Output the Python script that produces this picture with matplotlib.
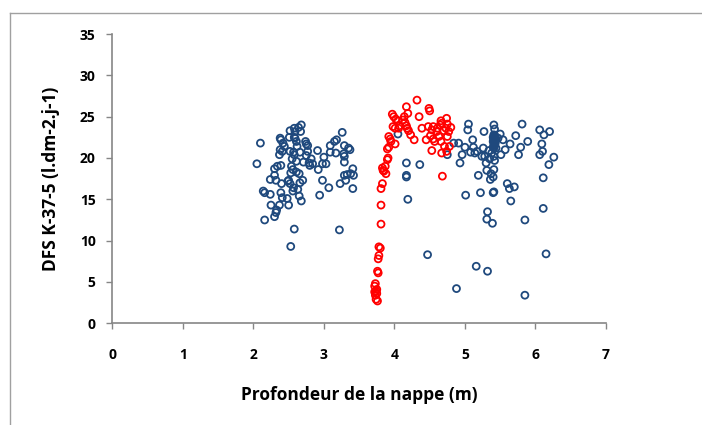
import matplotlib
matplotlib.use("Agg")
import matplotlib.pyplot as plt
from matplotlib.lines import Line2D

# ---- data ----
blue_x = [2.05, 2.10, 2.14, 2.16, 2.16, 2.24, 2.24, 2.25, 2.30, 2.30, 2.32, 2.30, 2.33, 2.32,
          2.34, 2.37, 2.38, 2.39, 2.39, 2.38, 2.37, 2.40, 2.39, 2.41, 2.42, 2.44, 2.41, 2.48,
          2.49, 2.50, 2.52, 2.51, 2.50, 2.52, 2.52, 2.53, 2.54, 2.55, 2.57, 2.58, 2.53, 2.56,
          2.57, 2.56, 2.58, 2.59, 2.58, 2.59, 2.61, 2.58, 2.61, 2.61, 2.62, 2.63, 2.65, 2.64,
          2.65, 2.66, 2.66, 2.67, 2.68, 2.68, 2.70, 2.71, 2.74, 2.75, 2.77, 2.75, 2.77, 2.79,
          2.80, 2.82, 2.84, 2.91, 2.92, 2.94, 2.98, 3.00, 2.98, 3.03, 3.07, 3.09, 3.09, 3.15,
          3.18, 3.17, 3.22, 3.23, 3.26, 3.28, 3.29, 3.29, 3.29, 3.29, 3.31, 3.33, 3.35, 3.37,
          3.38, 3.41, 3.42, 3.41,
          4.05, 4.17, 4.17, 4.17, 4.19, 4.36, 4.47, 4.75, 4.84, 4.88, 4.91, 4.93, 4.96, 5.00,
          5.01, 5.04, 5.05, 5.08, 5.11, 5.12, 5.14, 5.16, 5.17, 5.19, 5.22, 5.24, 5.26, 5.27,
          5.28, 5.30, 5.31, 5.31, 5.32, 5.32, 5.34, 5.35, 5.36, 5.37, 5.38, 5.39, 5.40, 5.41,
          5.40, 5.41, 5.42, 5.41, 5.42, 5.41, 5.44, 5.47, 5.50, 5.51, 5.54, 5.57, 5.60, 5.63,
          5.64, 5.65, 5.70, 5.72, 5.76, 5.79, 5.81, 5.85, 5.85, 5.89, 6.06, 6.06, 6.09, 6.10,
          6.11, 6.11, 6.12, 6.15, 6.19, 6.20, 6.26,
          5.40, 5.41, 5.42, 5.43, 5.40, 5.41, 5.42, 5.43, 5.41, 5.42, 5.40, 5.43, 5.41, 5.42,
          5.42, 5.41]
blue_y = [19.3, 21.8, 16.0, 15.8, 12.5, 17.4, 15.6, 14.3, 18.7, 17.9, 17.3, 12.9, 13.7, 13.4,
          19.0, 14.3, 22.4, 22.2, 19.1, 21.0, 20.4, 16.9, 15.8, 15.2, 21.8, 21.4, 20.8, 15.1,
          17.2, 17.3, 23.3, 22.5, 14.3, 16.9, 20.8, 18.2, 19.0, 19.9, 20.7, 20.4, 9.3, 16.0,
          16.4, 18.6, 23.6, 23.2, 22.5, 22.4, 22.0, 11.4, 18.3, 19.6, 21.4, 16.2, 15.4, 23.7,
          18.1, 20.7, 17.0, 23.2, 24.0, 14.8, 17.3, 19.5, 22.0, 21.7, 21.5, 20.3, 20.8, 19.4,
          19.1, 19.9, 19.3, 20.9, 18.6, 15.5, 17.3, 20.1, 19.3, 19.3, 16.4, 21.5, 20.7, 22.0,
          22.2, 20.6, 11.3, 16.9, 23.1, 20.5, 20.2, 21.5, 19.5, 17.9, 17.3, 18.0, 21.2, 21.0,
          18.1, 18.7, 17.9, 16.3,
          22.9, 19.4, 17.9, 17.7, 15.0, 19.2, 8.3, 20.4, 21.8, 4.2, 21.8, 19.4, 20.4, 21.3,
          15.5, 23.4, 24.1, 20.7, 22.2, 21.3, 20.6, 6.9, 20.8, 17.9, 15.8, 20.2, 21.2, 23.2,
          20.2, 19.4, 18.5, 12.6, 13.5, 6.3, 20.9, 19.9, 17.4, 18.1, 20.6, 12.1, 15.8, 18.6,
          17.7, 24.0, 23.5, 15.9, 19.7, 20.2, 21.2, 22.4, 22.9, 20.4, 22.2, 21.0, 16.9, 16.3,
          21.7, 14.8, 16.5, 22.7, 20.4, 21.3, 24.1, 12.5, 3.4, 22.0, 23.4, 20.4, 21.7, 20.8,
          17.6, 13.9, 22.8, 8.4, 19.2, 23.2, 20.1,
          21.3, 21.6, 21.9, 22.2, 22.5, 22.8, 21.5, 21.8, 22.1, 22.4, 22.0, 22.6, 21.2, 22.7,
          21.7, 22.3]

red_x = [3.72, 3.73, 3.72, 3.73, 3.75, 3.76, 3.75, 3.76, 3.77, 3.77, 3.78, 3.80, 3.78,
         3.81, 3.81, 3.81, 3.83, 3.83, 3.84, 3.85, 3.87, 3.88, 3.90, 3.91, 3.90, 3.92,
         3.92, 3.94, 3.95, 3.97, 3.99, 3.98, 4.01, 4.01, 4.02, 4.05, 4.06, 4.07, 4.12,
         4.14, 4.15, 4.17, 4.17, 4.19, 4.18, 4.20, 4.23, 4.28, 4.32, 4.35, 4.39, 4.45,
         4.49, 4.50, 4.48, 4.51, 4.53, 4.53, 4.55, 4.55, 4.57, 4.60, 4.61, 4.63, 4.65,
         4.66, 4.67, 4.66, 4.67, 4.68, 4.70, 4.71, 4.73, 4.74, 4.75, 4.75, 4.77, 4.78,
         4.80, 4.74, 3.74, 3.74]
red_y = [4.5, 4.8, 3.8, 3.4, 3.6, 2.7, 4.1, 6.3, 6.1, 7.8, 8.2, 9.1, 9.25,
         12.0, 14.3, 16.3, 16.9, 18.8, 18.5, 18.4, 19.0, 18.1, 19.8, 20.0, 21.1, 21.3,
         22.6, 22.3, 22.0, 25.3, 25.0, 23.8, 23.6, 21.7, 24.7, 24.5, 23.6, 23.9, 24.6,
         25.0, 24.3, 26.2, 23.9, 25.4, 23.6, 23.3, 22.8, 22.2, 27.0, 25.0, 23.6, 22.2,
         26.0, 25.7, 23.8, 22.7, 20.9, 23.4, 23.8, 22.3, 22.0, 23.2, 23.6, 22.6, 24.0,
         24.5, 24.2, 22.0, 20.6, 17.8, 23.3, 21.4, 23.6, 24.8, 24.1, 22.6, 23.2, 21.4,
         23.7, 20.8, 3.9, 2.9]

x_ticks = [0, 1, 2, 3, 4, 5, 6, 7]
y_ticks = [0, 5, 10, 15, 20, 25, 30, 35]
x_label = "Profondeur de la nappe (m)"
y_label = "DFS K-37-5 (l.dm-2.j-1)"

# ---- figure ----
plt.rcParams['font.family'] = ['Open Sans', 'DejaVu Sans']
fig = plt.figure(figsize=(7.02, 4.25), dpi=100)
ax = fig.add_axes([112.3 / 702, 1 - 323.3 / 425, (606 - 112.3) / 702, (323.3 - 34) / 425])

ax.scatter(blue_x, blue_y, s=25, facecolors='none', edgecolors='#1F497D', linewidths=1.3, zorder=3)
ax.scatter(red_x, red_y, s=25, facecolors='none', edgecolors='#FF0000', linewidths=1.3, zorder=4)

ax.set_xlim(0, 7)
ax.set_ylim(0, 35)
ax.set_xticks(x_ticks)
ax.set_yticks(y_ticks)
ax.set_xticklabels([str(v) for v in x_ticks], fontsize=10, fontweight='bold')
ax.set_yticklabels([str(v) for v in y_ticks], fontsize=10, fontweight='bold')
ax.tick_params(axis='both', direction='out', length=4, width=1, color='#868686')
ax.tick_params(axis='x', pad=14)
ax.tick_params(axis='y', pad=8)

for s in ['top', 'right']:
    ax.spines[s].set_visible(False)
for s in ['left', 'bottom']:
    ax.spines[s].set_color('#868686')
    ax.spines[s].set_linewidth(1.2)

ax.set_xlabel(x_label, fontsize=12.5, fontweight='bold', labelpad=17)
ax.set_ylabel(y_label, fontsize=12.5, fontweight='bold', labelpad=14)

# outer chart-area border
fig.add_artist(Line2D([9.5 / 702, 9.5 / 702], [0, 1 - 13 / 425], transform=fig.transFigure,
                      color='#a0a0a0', lw=1))
fig.add_artist(Line2D([9.5 / 702, 1], [1 - 13 / 425, 1 - 13 / 425], transform=fig.transFigure,
                      color='#a0a0a0', lw=1))

fig.savefig("out.png", dpi=100)
